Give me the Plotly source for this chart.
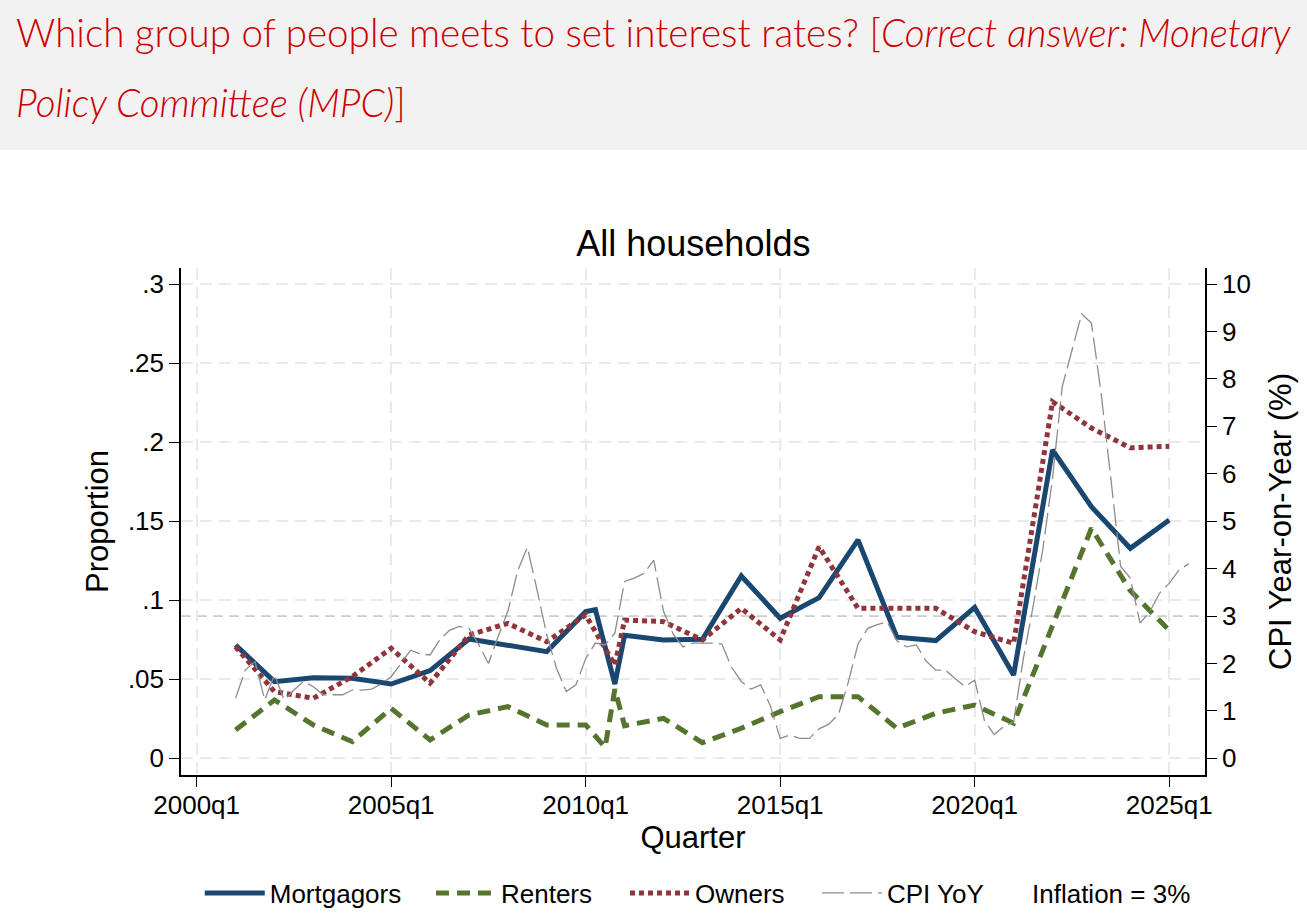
import plotly.graph_objects as go

# quarters (Stata %tq style labels) and proportions for each household group
mort_quarters = ["2001q1", "2002q1", "2003q1", "2004q1", "2005q1", "2006q1", "2007q1", "2008q1",
                 "2009q1", "2010q1", "2010q2", "2010q4", "2011q1", "2012q1", "2013q1", "2014q1",
                 "2015q1", "2016q1", "2017q1", "2018q1", "2019q1", "2020q1", "2021q1", "2022q1",
                 "2023q1", "2024q1", "2025q1"]
mortgagors = [0.0717, 0.0485, 0.0510, 0.0506, 0.0470, 0.0555, 0.0755, 0.0712,
              0.0675, 0.0928, 0.0940, 0.0470, 0.0778, 0.0749, 0.0753, 0.1154,
              0.0886, 0.1017, 0.1382, 0.0766, 0.0745, 0.0955, 0.0527, 0.1951,
              0.1592, 0.1329, 0.1508]

rent_quarters = ["2001q1", "2002q1", "2003q1", "2004q1", "2005q1", "2006q1", "2007q1", "2008q1",
                 "2009q1", "2010q1", "2010q3", "2010q4", "2011q1", "2012q1", "2013q1", "2014q1",
                 "2015q1", "2016q1", "2017q1", "2018q1", "2019q1", "2020q1", "2021q1", "2022q1",
                 "2023q1", "2024q1", "2025q1"]
renters = [0.0179, 0.0369, 0.0211, 0.0105, 0.0316, 0.0116, 0.0274, 0.0327,
           0.0211, 0.0211, 0.0070, 0.0438, 0.0206, 0.0253, 0.0099, 0.0190,
           0.0295, 0.0390, 0.0390, 0.0190, 0.0285, 0.0337, 0.0222, 0.0830,
           0.1456, 0.1060, 0.0810]

own_quarters = ["2001q1", "2002q1", "2003q1", "2004q1", "2005q1", "2006q1", "2007q1", "2008q1",
                "2009q1", "2010q1", "2010q4", "2011q1", "2012q1", "2013q1", "2014q1", "2015q1",
                "2016q1", "2017q1", "2018q1", "2019q1", "2020q1", "2021q1", "2022q1", "2023q1",
                "2024q1", "2025q1"]
owners = [0.0706, 0.0422, 0.0380, 0.0517, 0.0696, 0.0475, 0.0780, 0.0854,
          0.0738, 0.0907, 0.0590, 0.0875, 0.0865, 0.0749, 0.0949, 0.0749,
          0.1339, 0.0949, 0.0949, 0.0949, 0.0801, 0.0728, 0.2257, 0.2090,
          0.1965, 0.1975]

# CPI year-on-year (%), quarterly from 2001q1
cpi_start = "2001q1"
cpi_yoy = [1.27, 1.86, 2.04, 1.23, 1.76, 1.23, 1.44, 1.62,
           1.51, 1.34, 1.34, 1.34, 1.44, 1.44, 1.46, 1.57,
           1.72, 2.00, 2.28, 2.20, 2.18, 2.50, 2.70, 2.78,
           2.74, 2.40, 2.00, 2.57, 3.10, 3.95, 4.45, 3.55,
           2.60, 1.90, 1.41, 1.55, 2.10, 2.43, 2.39, 2.64,
           3.73, 3.80, 3.90, 4.18, 3.10, 2.62, 2.35, 2.43,
           2.43, 2.43, 2.41, 1.92, 1.62, 1.46, 1.55, 1.10,
           0.42, 0.49, 0.42, 0.42, 0.62, 0.72, 0.93, 1.60,
           2.41, 2.74, 2.82, 2.88, 2.48, 2.35, 2.39, 2.05,
           1.86, 1.86, 1.68, 1.51, 1.65, 0.80, 0.50, 0.67,
           0.77, 2.10, 3.20, 4.40, 5.90, 7.84, 8.60, 9.37,
           9.18, 7.70, 5.90, 4.05, 3.80, 2.85, 3.09, 3.48,
           3.69, 3.97, 4.10]

inflation_target = 3

x_tick_labels = ["2000q1", "2005q1", "2010q1", "2015q1", "2020q1", "2025q1"]
y_tick_vals = [0, 0.05, 0.1, 0.15, 0.2, 0.25, 0.3]
y_tick_labels = ["0", ".05", ".1", ".15", ".2", ".25", ".3"]
y2_tick_vals = [0, 1, 2, 3, 4, 5, 6, 7, 8, 9, 10]


def qnum(label):
    # quarters since 1960q1, like Stata's %tq
    year, q = label.split("q")
    return (int(year) - 1960) * 4 + int(q) - 1


cpi_x = [qnum(cpi_start) + i for i in range(len(cpi_yoy))]

FONT = "Liberation Sans, Arial, sans-serif"
HEAD_FONT = dict(family="Lato, sans-serif", size=38.6, color="#cc0000", weight=300)
grid = dict(showgrid=True, gridcolor="#eaeaea", gridwidth=1.5, griddash="12px,7px")

fig = go.Figure()
fig.add_trace(go.Scatter(x=[qnum(q) for q in mort_quarters], y=mortgagors, mode="lines",
                         name="Mortgagors", legend="legend",
                         line=dict(color="#1a476f", width=5)))
fig.add_trace(go.Scatter(x=[qnum(q) for q in rent_quarters], y=renters, mode="lines",
                         name="Renters", legend="legend2",
                         line=dict(color="#55752f", width=5, dash="13px,8px")))
fig.add_trace(go.Scatter(x=[qnum(q) for q in own_quarters], y=owners, mode="lines",
                         name="Owners", legend="legend3",
                         line=dict(color="#90353b", width=5, dash="5px,4px")))
fig.add_trace(go.Scatter(x=cpi_x, y=cpi_yoy, mode="lines", yaxis="y2",
                         name="CPI YoY", legend="legend4",
                         line=dict(color="#8c8c8c", width=1.3, dash="22px,6px")))
# legend-only entry for the reference line (no key symbol, as in the original)
fig.add_trace(go.Scatter(x=[None], y=[None], mode="lines", name="Inflation = 3%", legend="legend5",
                         line=dict(color="rgba(0,0,0,0)", width=1)))

fig.add_shape(type="line", xref="paper", x0=0, x1=1, yref="y2",
              y0=inflation_target, y1=inflation_target,
              line=dict(color="#a6a6a6", width=1, dash="10px,6px"), layer="between")

# question banner on top
fig.add_shape(type="rect", xref="paper", yref="paper", x0=-0.18, x1=1.11, y0=1.2327, y1=1.55,
              fillcolor="#f2f2f2", line=dict(width=0), layer="below")
fig.add_annotation(xref="paper", yref="paper", x=-0.1631, y=1.4645, xanchor="left", yanchor="middle",
                   showarrow=False, font=HEAD_FONT,
                   text="Which group of people meets to set interest rates? [<i>Correct answer: Monetary</i>")
fig.add_annotation(xref="paper", yref="paper", x=-0.1631, y=1.3265, xanchor="left", yanchor="middle",
                   showarrow=False, font=HEAD_FONT,
                   text="<i>Policy Committee (MPC)</i>]")


def legend_at(x):
    return dict(orientation="h", x=x, xanchor="left", y=-0.2327, yanchor="middle",
                itemwidth=60, font=dict(family=FONT, size=26), bgcolor="rgba(0,0,0,0)")


fig.update_layout(
    width=1307, height=923,
    margin=dict(l=181, r=102, t=268, b=148, autoexpand=False),
    paper_bgcolor="white", plot_bgcolor="white",
    font=dict(family=FONT, size=26, color="black"),
    title=dict(text="All households", x=0.5305, xanchor="center", y=0.7367, yanchor="middle",
               font=dict(family=FONT, size=36, color="black")),
    xaxis=dict(range=[158.39, 263.68], tickvals=[qnum(t) for t in x_tick_labels], ticktext=x_tick_labels,
               ticks="outside", ticklen=10, tickcolor="black", showline=True, linecolor="black",
               linewidth=1.5, zeroline=False, ticklabelstandoff=-4,
               title=dict(text="Quarter", standoff=6), **grid),
    yaxis=dict(range=[-0.01057, 0.3103], tickvals=y_tick_vals, ticktext=y_tick_labels,
               ticks="outside", ticklen=10, tickcolor="black", showline=True, linecolor="black",
               linewidth=1.5, zeroline=False,
               title=dict(text="Proportion", standoff=10), **grid),
    yaxis2=dict(range=[-0.352, 10.34], tickvals=y2_tick_vals, overlaying="y", side="right",
                ticks="outside", ticklen=10, tickcolor="black", showline=True, linecolor="black",
                linewidth=1.5, zeroline=False, showgrid=False,
                title=dict(text="CPI Year-on-Year (%)", standoff=19)),
    legend=legend_at(0.0183),
    legend2=legend_at(0.2441),
    legend3=legend_at(0.4336),
    legend4=legend_at(0.6211),
    legend5=legend_at(0.7627),
    showlegend=True,
)

# the page is photographed edge to edge, so drop the default body margin
fig.write_html("out.html", config={"displayModeBar": False},
               post_script="document.body.style.margin='0';")
